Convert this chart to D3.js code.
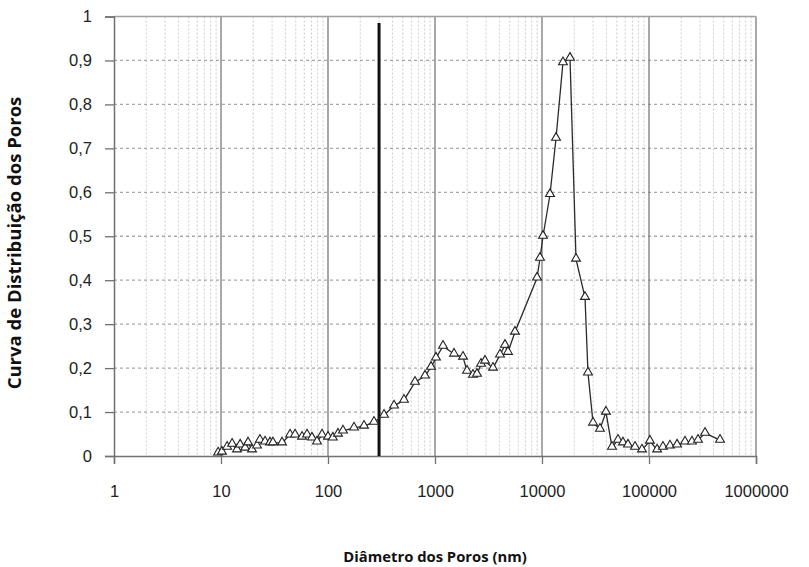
<!DOCTYPE html>
<html>
<head>
<meta charset="utf-8">
<script src="https://cdn.jsdelivr.net/npm/d3@7"></script>
<style>
  body { margin: 0; background: #fff; }
  svg { display: block; }
</style>
</head>
<body>
<div id="chart"></div>
<script>
// pore diameter (nm) and distribution curve values
const diameters = [9.4, 10.2, 11.4, 12.7, 14.1, 15.1, 16.8, 17.9, 19.5, 21.7, 23.1, 25.8, 28.7, 30.6, 37.2,
  44.2, 49.2, 57.2, 63.7, 70.8, 78.9, 87.9, 100, 111, 124, 138, 175, 217, 269, 334, 414, 513, 650,
  807, 918, 1021, 1188, 1506, 1827, 1991, 2265, 2470, 2692, 2933, 3484, 4049, 4508, 4809, 5594,
  8981, 9580, 10220, 11880, 13520, 15700, 18270, 20790, 25230, 26900, 30000, 34800, 39600,
  45100, 51300, 57100, 63600, 74000, 86000, 102000, 119000, 135000, 157000, 183000, 217000,
  252000, 287000, 334000, 461000]
const distribution = [0.007, 0.009, 0.02, 0.027, 0.014, 0.025, 0.018, 0.03, 0.014, 0.023, 0.036, 0.032, 0.03, 0.03, 0.03,
  0.048, 0.048, 0.043, 0.048, 0.041, 0.032, 0.048, 0.043, 0.041, 0.05, 0.057, 0.064, 0.068, 0.077, 0.093, 0.114, 0.127, 0.168,
  0.182, 0.202, 0.223, 0.25, 0.232, 0.225, 0.193, 0.184, 0.186, 0.209, 0.216, 0.2, 0.23, 0.252, 0.236, 0.282,
  0.405, 0.45, 0.5, 0.595, 0.723, 0.895, 0.905, 0.448, 0.361, 0.189, 0.075, 0.061, 0.1,
  0.02, 0.036, 0.03, 0.025, 0.02, 0.014, 0.034, 0.014, 0.02, 0.023, 0.025, 0.032,
  0.032, 0.036, 0.052, 0.036]
const xTicks = [1, 10, 100, 1000, 10000, 100000, 1000000]
const yTicks = [0, 0.1, 0.2, 0.3, 0.4, 0.5, 0.6, 0.7, 0.8, 0.9, 1]
const markerDiameter = 300 // vertical reference line
const markerTop = 0.985

const data = diameters.map((d, i) => ({ x: d, y: distribution[i] }))

var width = 809, height = 567
var margin = { top: 16.5, right: 53, bottom: 111, left: 114 },
  w = width - margin.left - margin.right,
  h = height - margin.top - margin.bottom

var svg = d3.select("#chart").append("svg")
  .attr("width", width)
  .attr("height", height)

var g = svg.append("g")
  .attr("transform", "translate(" + margin.left + "," + margin.top + ")")

var x = d3.scaleLog().domain([1, 1000000]).range([0, w])
var y = d3.scaleLinear().domain([0, 1]).range([h, 0])

// minor vertical grid (2..9 in each decade)
var minor = []
xTicks.slice(0, -1).forEach(function (t) {
  for (var k = 2; k <= 9; k++) minor.push(t * k)
})
g.selectAll("line.minor").data(minor).enter().append("line")
  .attr("class", "minor")
  .attr("x1", d => x(d)).attr("x2", d => x(d))
  .attr("y1", 0).attr("y2", h)
  .attr("stroke", "#cccccc").attr("stroke-width", 1)
  .attr("stroke-dasharray", "2,2")

// horizontal grid
g.selectAll("line.hgrid").data(yTicks.slice(1, -1)).enter().append("line")
  .attr("class", "hgrid")
  .attr("x1", 0).attr("x2", w)
  .attr("y1", d => y(d)).attr("y2", d => y(d))
  .attr("stroke", "#a8a8a8").attr("stroke-width", 1.3)
  .attr("stroke-dasharray", "3,3")

// major vertical grid
g.selectAll("line.major").data(xTicks.slice(1)).enter().append("line")
  .attr("class", "major")
  .attr("x1", d => x(d)).attr("x2", d => x(d))
  .attr("y1", 0).attr("y2", h)
  .attr("stroke", "#7a7a7a").attr("stroke-width", 1.3)

// top border
g.append("line").attr("x1", 0).attr("x2", w).attr("y1", 0).attr("y2", 0)
  .attr("stroke", "#a0a0a0").attr("stroke-width", 1.5)

// axes
var yAxis = d3.axisLeft(y).tickValues(yTicks).tickSize(9).tickPadding(13)
  .tickFormat(d => d3.format(".1~f")(d).replace(".", ","))
var yg = g.append("g").call(yAxis)
var xAxis = d3.axisBottom(x).tickValues(xTicks).tickSize(8).tickPadding(21)
  .tickFormat(d3.format("d"))
var xg = g.append("g").attr("transform", "translate(0," + h + ")").call(xAxis)

;[yg, xg].forEach(function (a) {
  a.select(".domain").attr("stroke", "#707070").attr("stroke-width", 1.5)
  a.selectAll(".tick line").attr("stroke", "#707070").attr("stroke-width", 1.3)
  a.selectAll("text").attr("fill", "#222")
    .style("font-family", "'Liberation Sans', Arial, sans-serif")
    .style("font-size", "16.5px")
})

// thick vertical reference line
g.append("line")
  .attr("x1", x(markerDiameter)).attr("x2", x(markerDiameter))
  .attr("y1", y(markerTop)).attr("y2", h)
  .attr("stroke", "#111").attr("stroke-width", 3)

// data line
var line = d3.line().x(d => x(d.x)).y(d => y(d.y))
g.append("path").datum(data)
  .attr("d", line)
  .attr("fill", "none")
  .attr("stroke", "#2a2a2a")
  .attr("stroke-width", 1.3)

// triangle markers
var tri = d3.symbol().type(d3.symbolTriangle).size(34)
g.selectAll("path.pt").data(data).enter().append("path")
  .attr("class", "pt")
  .attr("d", tri)
  .attr("transform", d => "translate(" + x(d.x) + "," + (y(d.y) - 0.5) + ")")
  .attr("fill", "#fff")
  .attr("stroke", "#222")
  .attr("stroke-width", 1.1)

// axis titles
svg.append("text")
  .attr("x", 435).attr("y", 562)
  .attr("text-anchor", "middle")
  .style("font-family", "'Open Sans', sans-serif")
  .style("font-weight", "bold")
  .style("font-size", "14.8px")
  .attr("fill", "#111")
  .text("Diâmetro dos Poros (nm)")

svg.append("text")
  .attr("transform", "translate(21,243) rotate(-90)")
  .attr("text-anchor", "middle")
  .style("font-family", "'Open Sans', sans-serif")
  .style("font-weight", "bold")
  .style("font-size", "18.5px")
  .attr("fill", "#111")
  .text("Curva de Distribuição dos Poros")
</script>
</body>
</html>
